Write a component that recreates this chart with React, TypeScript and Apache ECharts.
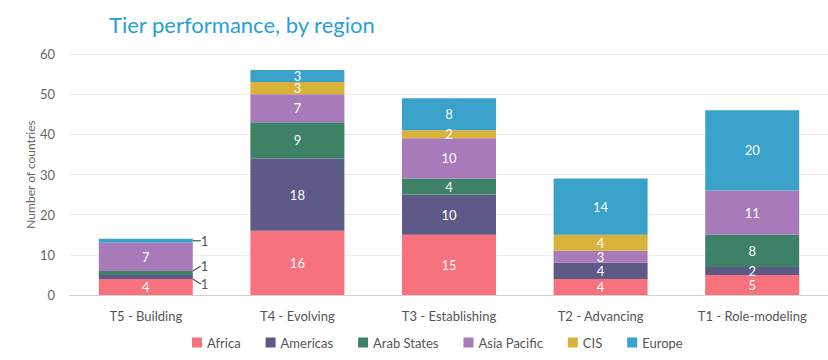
import React, { useEffect, useRef } from "react";
import * as echarts from "echarts";

const categories = ["T5 - Building", "T4 - Evolving", "T3 - Establishing", "T2 - Advancing", "T1 - Role-modeling"];
const regionNames = ["Africa", "Americas", "Arab States", "Asia Pacific", "CIS", "Europe"];
const africa = [4, 16, 15, 4, 5];
const americas = [1, 18, 10, 4, 2];
const arabStates = [1, 9, 4, 0, 8];
const asiaPacific = [7, 7, 10, 3, 11];
const cis = [0, 3, 2, 4, 0];
const europe = [1, 3, 8, 14, 20];
const yTicks = [0, 10, 20, 30, 40, 50, 60];

const colors = ["#f7727d", "#5d5a88", "#3d8166", "#a97ab9", "#d9b23b", "#3aa1cb"];
const FONT = "Lato, 'Open Sans', sans-serif";

// outside labels (with leader lines) for the thin T5 segments: vertical shift
const outsideShift: Record<string, number> = { Americas: 7, "Arab States": -7, Europe: 0 };

export default function App() {
  const ref = useRef<HTMLDivElement>(null);
  useEffect(() => {
    document.body.style.margin = "0";
    const chart = echarts.init(ref.current!, null, { renderer: "svg" });
    const seriesData = [africa, americas, arabStates, asiaPacific, cis, europe];
    const series = regionNames.map((name, si) => {
      const outside = name in outsideShift;
      return {
        name,
        type: "bar",
        stack: "total",
        barWidth: "62%",
        itemStyle: { color: colors[si] },
        label: {
          show: true,
          position: "inside",
          color: "#ffffff",
          fontSize: 13,
          fontFamily: FONT,
        },
        labelLayout: outside
          ? (params: any) => (params.dataIndex === 0 ? { dy: outsideShift[name] } : {})
          : undefined,
        data: seriesData[si].map((v, di) => {
          if (v === 0) return { value: v, label: { show: false } };
          if (di === 0 && outside) {
            return {
              value: v,
              label: { show: true, position: "right", distance: 8, color: "#555555" },
              labelLine: { show: true, lineStyle: { color: "#4a4a6a", width: 1.2 } },
            };
          }
          return v;
        }),
      };
    });
    chart.setOption({
      animation: false,
      color: colors,
      textStyle: { fontFamily: FONT },
      title: {
        text: "Tier performance, by region",
        left: 104,
        top: 8,
        textStyle: { color: "#2a9fd6", fontSize: 22, fontWeight: "normal", fontFamily: FONT },
      },
      legend: {
        data: regionNames,
        left: 187,
        top: 331,
        itemWidth: 10,
        itemHeight: 10,
        itemGap: 25,
        icon: "rect",
        textStyle: { color: "#555555", fontSize: 13, fontFamily: FONT },
      },
      grid: { left: 70, right: 0, top: 54, bottom: 65 },
      xAxis: {
        type: "category",
        data: categories,
        axisTick: { show: false },
        axisLine: { lineStyle: { color: "#d0d0d0" } },
        axisLabel: { color: "#555555", fontSize: 13, margin: 14, fontFamily: FONT },
      },
      yAxis: {
        type: "value",
        min: yTicks[0],
        max: yTicks[yTicks.length - 1],
        interval: 10,
        name: "Number of countries",
        nameLocation: "middle",
        nameGap: 34,
        nameMoveOverlap: false,
        nameTextStyle: { color: "#666666", fontSize: 12, fontFamily: FONT },
        axisLabel: { color: "#666666", fontSize: 13, margin: 15, fontFamily: FONT },
        splitLine: { lineStyle: { color: "#ececec" } },
        axisLine: { show: false },
        axisTick: { show: false },
      },
      series,
    });
    return () => chart.dispose();
  }, []);
  return <div ref={ref} style={{ width: 828, height: 360 }} />;
}
